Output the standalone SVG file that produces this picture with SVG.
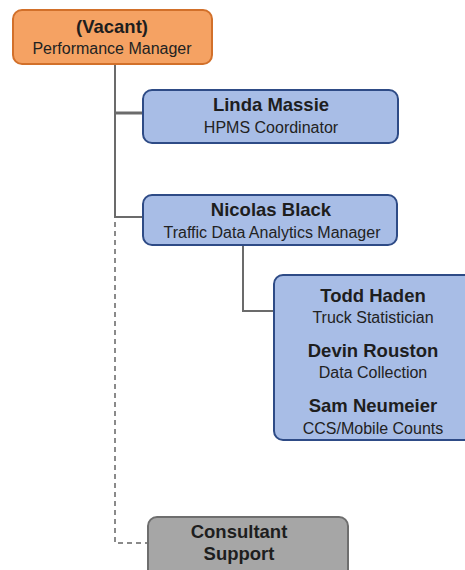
<svg xmlns="http://www.w3.org/2000/svg" width="465" height="570" viewBox="0 0 465 570">
  <style>
    .box { stroke-width: 2; }
    .mgr { fill: #F5A263; stroke: #D2702A; }
    .staff { fill: #A8BDE6; stroke: #2E4B86; }
    .ext { fill: #A6A6A6; stroke: #6E6E6E; }
    .name { font-family: "Liberation Sans", Arial, sans-serif; font-weight: bold; font-size: 18.5px; fill: #1E1E1E; text-anchor: middle; }
    .role { font-family: "Liberation Sans", Arial, sans-serif; font-size: 16px; fill: #222; text-anchor: middle; }
    .line { fill: none; stroke: #6B6B6B; stroke-width: 2; }
    .dash { fill: none; stroke: #8A8A8A; stroke-width: 2; stroke-dasharray: 5 4; }
  </style>

  <g id="connectors">
    <path class="line" d="M115 64 V218"/>
    <path class="line" d="M115 113 H143" style="stroke-width:3"/>
    <path class="line" d="M115 217 H143"/>
    <path class="line" d="M243 245 V311 H273"/>
    <path class="dash" d="M115 222 V543 H148"/>
  </g>

  <g id="performance-manager">
    <rect class="box mgr" x="13" y="10" width="199" height="54" rx="9"/>
    <text class="name" x="112" y="33">(Vacant)</text>
    <text class="role" x="112" y="54">Performance Manager</text>
  </g>

  <g id="hpms-coordinator">
    <rect class="box staff" x="143" y="90" width="255" height="53" rx="9"/>
    <text class="name" x="271" y="111">Linda Massie</text>
    <text class="role" x="271" y="133">HPMS Coordinator</text>
  </g>

  <g id="traffic-data-manager">
    <rect class="box staff" x="143" y="195" width="254" height="50" rx="9"/>
    <text class="name" x="271" y="216">Nicolas Black</text>
    <text class="role" x="272" y="238">Traffic Data Analytics Manager</text>
  </g>

  <g id="analytics-team">
    <rect class="box staff" x="274" y="275" width="200" height="165" rx="9"/>
    <text class="name" x="373" y="302">Todd Haden</text>
    <text class="role" x="373" y="323">Truck Statistician</text>
    <text class="name" x="373" y="357">Devin Rouston</text>
    <text class="role" x="373" y="378">Data Collection</text>
    <text class="name" x="373" y="412">Sam Neumeier</text>
    <text class="role" x="373" y="434">CCS/Mobile Counts</text>
  </g>

  <g id="consultant-support">
    <rect class="box ext" x="148" y="517" width="200" height="70" rx="9"/>
    <text class="name" x="239" y="538">Consultant</text>
    <text class="name" x="239" y="560">Support</text>
  </g>
</svg>
